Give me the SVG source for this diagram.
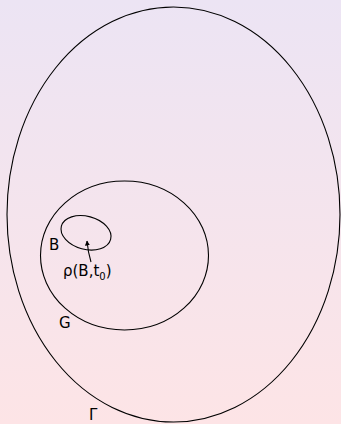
<svg xmlns="http://www.w3.org/2000/svg" width="341" height="424" viewBox="0 0 341 424">
<defs>
<linearGradient id="bg" x1="0" y1="0" x2="0" y2="1">
<stop offset="0" stop-color="#ece4f4"/>
<stop offset="1" stop-color="#fde4e6"/>
</linearGradient>
<marker id="ah" viewBox="0 0 10 10" refX="9" refY="5" markerWidth="5" markerHeight="5" orient="auto" markerUnits="userSpaceOnUse">
<path d="M0,0 L10,5 L0,10 Z" fill="#000"/>
</marker>
<style>
.sh{fill:none;stroke:#000;stroke-width:1.1}
.lb{font-family:"DejaVu Sans",sans-serif;font-size:15px;fill:#000}
</style>
</defs>
<rect width="341" height="424" fill="url(#bg)"/>
<g id="Gamma"><ellipse class="sh" cx="173.5" cy="214.5" rx="166.5" ry="207.5"/><text class="lb" x="89" y="420">Γ</text></g>
<g id="G"><ellipse class="sh" cx="124.5" cy="255.5" rx="84" ry="74.5"/><text class="lb" x="59" y="328">G</text></g>
<g id="B"><ellipse class="sh" cx="86" cy="232.8" rx="25.5" ry="16.5" transform="rotate(15 86 232.8)"/><text class="lb" x="49" y="250">B</text></g>
<g id="rho"><text class="lb" x="63" y="276">ρ(B,t<tspan font-size="10" dy="4">0</tspan><tspan dy="-4">)</tspan></text></g>
<g id="connectors"><path class="sh" d="M91,262 Q88,252 87,241" marker-end="url(#ah)"/></g>
</svg>
